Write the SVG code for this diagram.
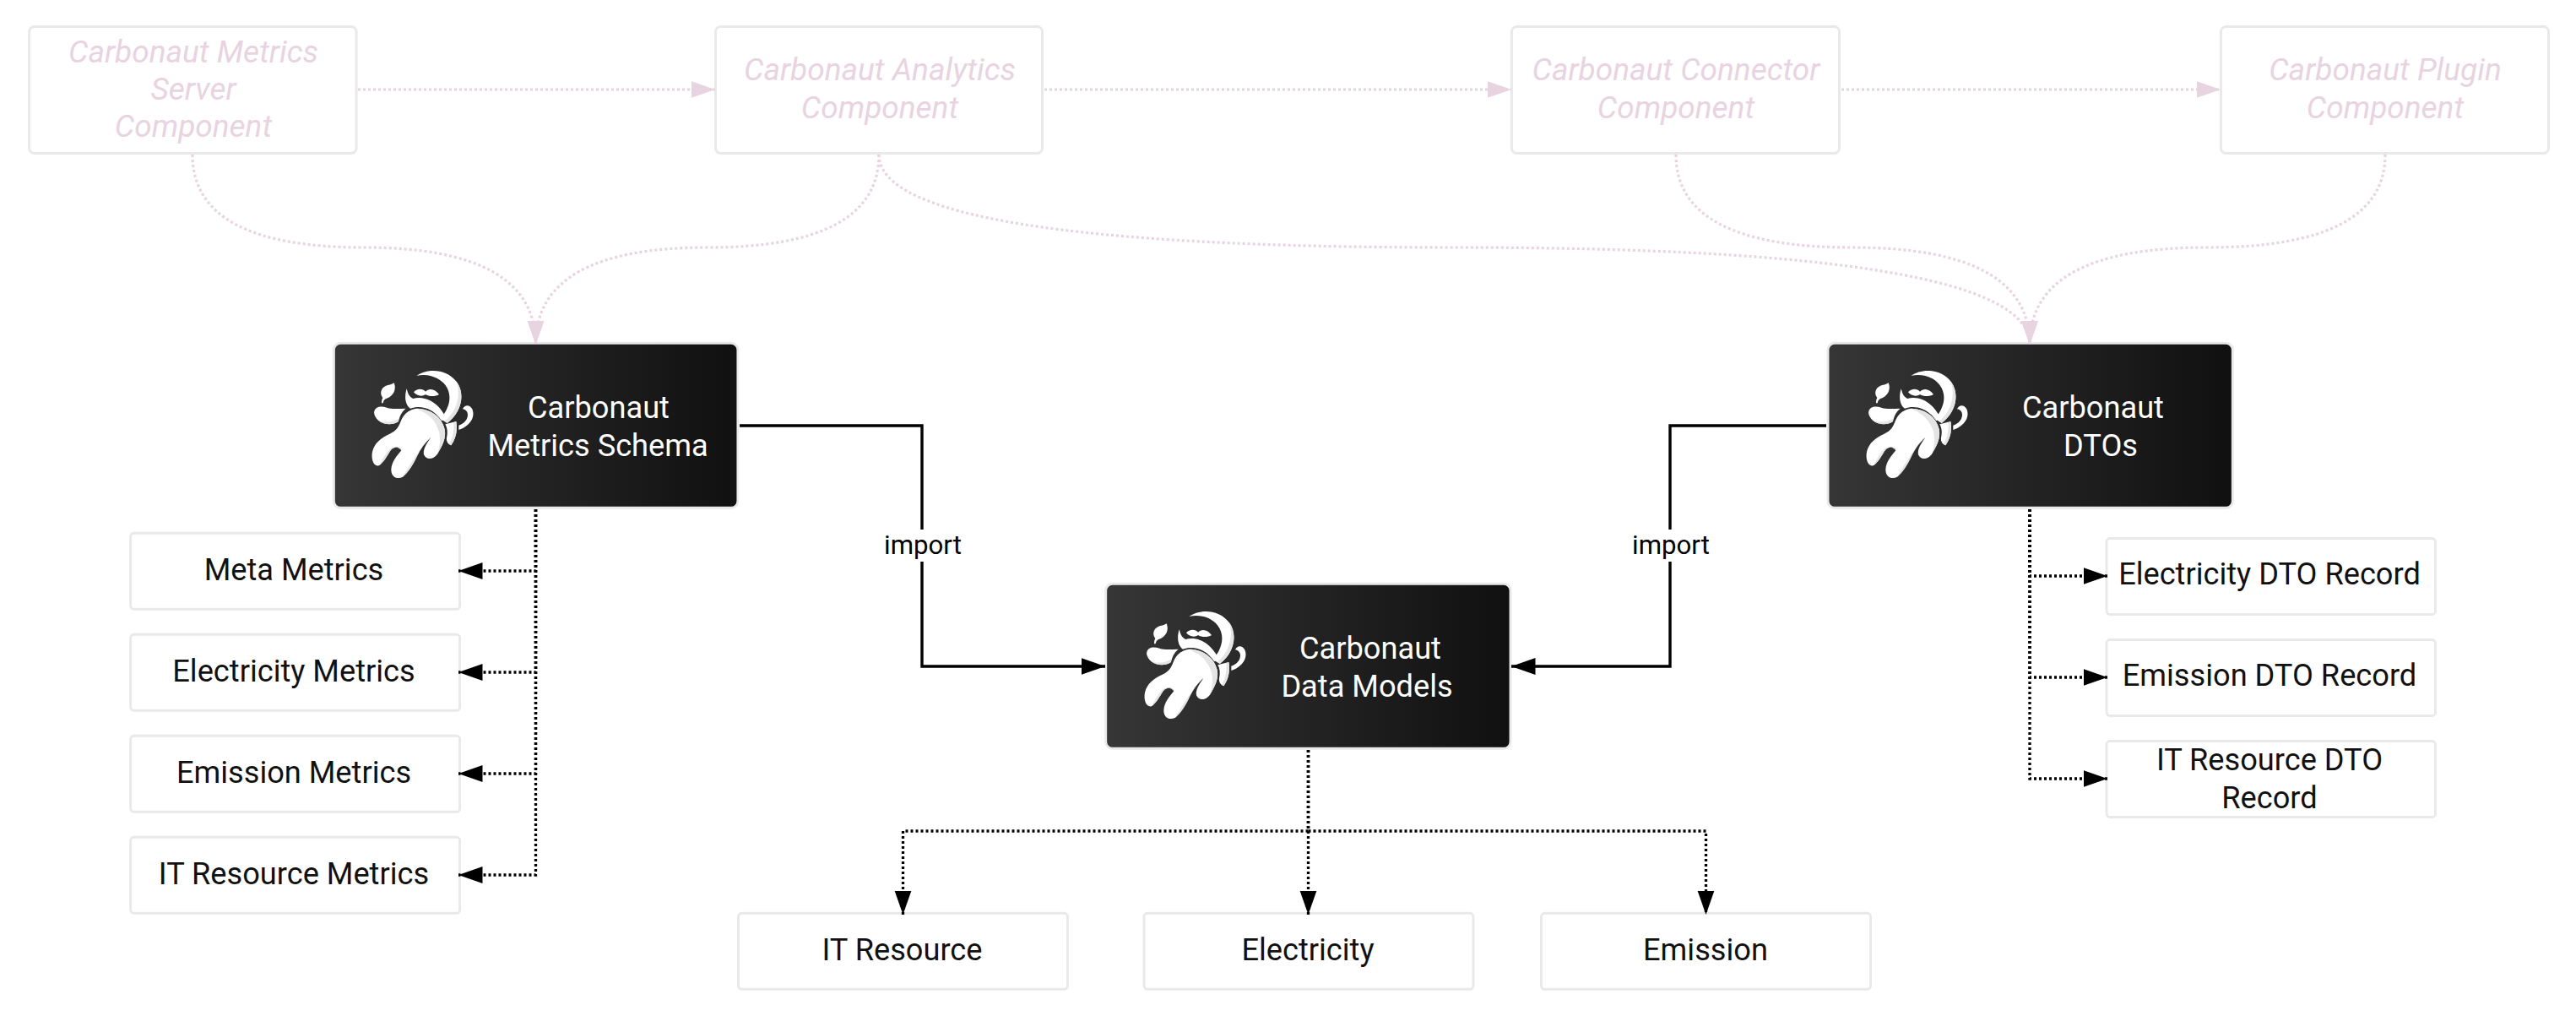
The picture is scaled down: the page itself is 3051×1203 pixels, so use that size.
<svg xmlns="http://www.w3.org/2000/svg" xmlns:xlink="http://www.w3.org/1999/xlink" width="3051" height="1203" viewBox="0 0 3051 1203">
<style>
text{font-family:Roboto,"Liberation Sans",sans-serif;font-size:36.2px;text-anchor:middle}
.box{fill:#fff;stroke:#e9e9e9;stroke-width:2.9}
.dark{fill:url(#g);stroke:#e9e9e9;stroke-width:2.9}
.t{fill:#111}
.w{fill:#fff}
.p{fill:#e8d3e0;font-style:italic;font-size:37px}
.k{fill:none;stroke:#000;stroke-width:3.3;stroke-dasharray:3 3}
.s{fill:none;stroke:#000;stroke-width:3.4}
.q{fill:none;stroke:#e8d3e0;stroke-width:3.2;stroke-dasharray:3 3}
.l{font-size:31.2px;fill:#000}
</style>
<defs>
<linearGradient id="g" x1="0" y1="0" x2="1" y2="0"><stop offset="0" stop-color="#363636"/><stop offset="1" stop-color="#101010"/></linearGradient>
<marker id="ak" markerUnits="userSpaceOnUse" markerWidth="30" markerHeight="22" refX="28.5" refY="11" orient="auto"><path d="M0 1L28.5 11L0 21Z" fill="#000"/></marker>
<marker id="ap" markerUnits="userSpaceOnUse" markerWidth="30" markerHeight="22" refX="28.5" refY="11" orient="auto"><path d="M0 1L28.5 11L0 21Z" fill="#e8d3e0"/></marker>
<g id="mascot" transform="scale(.3333)">
<path fill="#fff" d="M190 176C238 176 280 205 290 250C296 282 282 308 264 338C250 358 224 360 216 340C212 322 226 300 241 279C222 295 205 318 192 345C177 378 160 404 141 419C122 430 99 420 100 392C102 365 120 345 136 325C130 310 110 310 98 325C85 345 72 370 56 379C37 382 28 356 33 330C40 298 65 280 95 266C125 252 128 235 138 212C148 193 168 178 190 176Z"/>
<path fill="#e4e4e4" d="M190 176C238 176 280 205 290 250C296 282 282 308 264 338C276 300 276 270 265 245C248 205 220 190 190 176ZM241 279C222 295 205 318 192 345C177 378 160 404 141 419C158 392 190 335 226 292ZM136 325C130 310 110 310 98 325C85 345 72 370 56 379C68 358 78 338 95 320C110 310 125 312 136 325Z"/>
<path fill="#fff" d="M40 185C45 168 65 166 85 173C105 180 130 176 152 176C135 190 130 205 126 222C105 237 75 234 56 220C44 208 37 196 40 185Z"/>
<path fill="#e4e4e4" d="M56 220C75 226 105 226 126 212L126 222C105 237 75 234 56 220Z"/>
<path fill="#fff" d="M110 85C120 108 108 134 80 142C75 146 72 150 71 157L66 157C66 148 67 143 70 138C58 122 64 104 80 96C90 92 102 92 110 85Z"/>
<path fill="#fff" d="M190 60C228 32 298 34 333 82C364 125 350 190 299 228L274 212C310 175 318 125 292 92C268 62 228 52 190 60Z"/>
<path fill="#e4e4e4" d="M333 82C364 125 350 190 299 228L291 222C332 185 348 135 333 82Z"/>
<path fill="#fff" d="M155 106C146 135 150 164 168 176C205 162 252 176 280 220L294 208C264 148 214 130 178 141C166 136 160 126 155 106Z"/>
<path fill="#fff" d="M180 118C190 106 210 102 222 116C235 102 256 106 270 126C256 135 235 134 222 126C210 135 192 132 180 118Z"/>
<path fill="#fff" d="M292 232L331 222C337 250 330 284 313 307C303 304 295 293 297 280C301 262 300 246 292 232Z"/>
<path fill="#e4e4e4" d="M331 222C337 250 330 284 313 307L306 302C320 280 325 250 322 225Z"/>
<path fill="#fff" d="M340 236C360 229 372 215 372 198C372 188 365 180 354 178C362 160 380 163 388 178C398 202 386 226 363 241C356 246 347 250 340 252Z"/>
</g>
</defs>
<g id="nodes">
<g id="metrics-server"><rect class="box" x="34.6" y="31.5" width="387.5" height="150" rx="6"/><text class="p" x="229" y="74">Carbonaut Metrics</text><text class="p" x="229" y="118">Server</text><text class="p" x="229" y="162">Component</text></g>
<g id="analytics"><rect class="box" x="847.5" y="31.5" width="387" height="150" rx="6"/><text class="p" x="1042" y="95">Carbonaut Analytics</text><text class="p" x="1042" y="140">Component</text></g>
<g id="connector"><rect class="box" x="1790.5" y="31.5" width="388" height="150" rx="6"/><text class="p" x="1985" y="95">Carbonaut Connector</text><text class="p" x="1985" y="140">Component</text></g>
<g id="plugin"><rect class="box" x="2630.5" y="31.5" width="388" height="150" rx="6"/><text class="p" x="2825" y="95">Carbonaut Plugin</text><text class="p" x="2825" y="140">Component</text></g>
<g id="metrics-schema"><rect class="dark" x="395.4" y="406.3" width="478.5" height="195" rx="8"/><use xlink:href="#mascot" href="#mascot" transform="translate(430 425)"/><text class="w" x="709" y="495">Carbonaut</text><text class="w" x="708" y="540">Metrics Schema</text></g>
<g id="data-models"><rect class="dark" x="1309.7" y="691.3" width="479.3" height="195" rx="8"/><use xlink:href="#mascot" href="#mascot" transform="translate(1345 710)"/><text class="w" x="1623" y="780">Carbonaut</text><text class="w" x="1619" y="825">Data Models</text></g>
<g id="dtos"><rect class="dark" x="2165" y="406.3" width="479.3" height="195" rx="8"/><use xlink:href="#mascot" href="#mascot" transform="translate(2200 425)"/><text class="w" x="2479" y="495">Carbonaut</text><text class="w" x="2488" y="540">DTOs</text></g>
<g id="meta-metrics"><rect class="box" x="154.6" y="631.3" width="390" height="90" rx="4"/><text class="t" x="348" y="687">Meta Metrics</text></g>
<g id="electricity-metrics"><rect class="box" x="154.6" y="751.3" width="390" height="90" rx="4"/><text class="t" x="348" y="807">Electricity Metrics</text></g>
<g id="emission-metrics"><rect class="box" x="154.6" y="871.3" width="390" height="90" rx="4"/><text class="t" x="348" y="927">Emission Metrics</text></g>
<g id="it-resource-metrics"><rect class="box" x="154.6" y="991.3" width="390" height="90" rx="4"/><text class="t" x="348" y="1047">IT Resource Metrics</text></g>
<g id="electricity-dto"><rect class="box" x="2495" y="637.5" width="389.5" height="90" rx="4"/><text class="t" x="2688" y="692">Electricity DTO Record</text></g>
<g id="emission-dto"><rect class="box" x="2495" y="757.5" width="389.5" height="90" rx="4"/><text class="t" x="2688" y="812">Emission DTO Record</text></g>
<g id="it-resource-dto"><rect class="box" x="2495" y="877.5" width="389.5" height="90" rx="4"/><text class="t" x="2688" y="912">IT Resource DTO</text><text class="t" x="2688" y="957">Record</text></g>
<g id="it-resource"><rect class="box" x="874.5" y="1081.3" width="390" height="90" rx="4"/><text class="t" x="1068.5" y="1137">IT Resource</text></g>
<g id="electricity"><rect class="box" x="1355" y="1081.3" width="390" height="90" rx="4"/><text class="t" x="1549" y="1137">Electricity</text></g>
<g id="emission"><rect class="box" x="1825.5" y="1081.3" width="390" height="90" rx="4"/><text class="t" x="2020" y="1137">Emission</text></g>
</g>
<g id="connectors">
<path class="q" marker-end="url(#ap)" d="M424 106H847"/>
<path class="q" marker-end="url(#ap)" d="M1237 106H1790"/>
<path class="q" marker-end="url(#ap)" d="M2181 106H2630"/>
<path class="q" marker-end="url(#ap)" d="M228 183Q228 293 431 293Q634.5 293 634.5 408"/>
<path class="q" marker-end="url(#ap)" d="M1041 183Q1041 293 838 293Q634.5 293 634.5 408"/>
<path class="q" marker-end="url(#ap)" d="M1041 183Q1041 293 1722 293Q2404 293 2404 408"/>
<path class="q" marker-end="url(#ap)" d="M1985 183Q1985 293 2194 293Q2404 293 2404 408"/>
<path class="q" marker-end="url(#ap)" d="M2825 183Q2825 293 2614 293Q2404 293 2404 408"/>
<path class="s" marker-end="url(#ak)" d="M876 504H1092V789H1309"/>
<path class="s" marker-end="url(#ak)" d="M2163 504H1978V789H1790"/>
<rect x="1046" y="627" width="94" height="38" fill="#fff"/><text class="l" x="1093" y="656">import</text>
<rect x="1932" y="627" width="94" height="38" fill="#fff"/><text class="l" x="1979" y="656">import</text>
<path class="k" marker-end="url(#ak)" d="M634.5 603V676H543"/>
<path class="k" marker-end="url(#ak)" d="M634.5 603V796H543"/>
<path class="k" marker-end="url(#ak)" d="M634.5 603V916H543"/>
<path class="k" marker-end="url(#ak)" d="M634.5 603V1036H543"/>
<path class="k" marker-end="url(#ak)" d="M2404 603V682H2496"/>
<path class="k" marker-end="url(#ak)" d="M2404 603V802H2496"/>
<path class="k" marker-end="url(#ak)" d="M2404 603V922H2496"/>
<path class="k" marker-end="url(#ak)" d="M1549.5 888V984H1069.5V1083"/>
<path class="k" marker-end="url(#ak)" d="M1549.5 888V1083"/>
<path class="k" marker-end="url(#ak)" d="M1549.5 888V984H2020.5V1083"/>
</g>
</svg>
